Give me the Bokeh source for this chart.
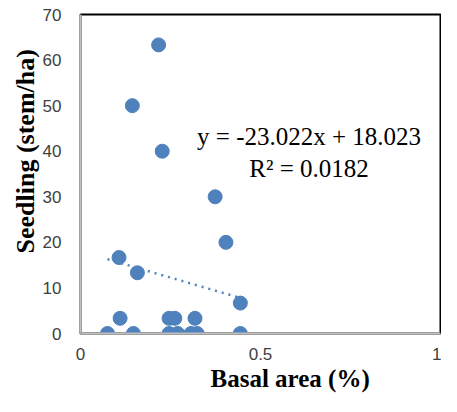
from bokeh.plotting import figure
from bokeh.models import Label, Range1d, FixedTicker, Title
from bokeh.embed import file_html
from bokeh.resources import INLINE

# Data
basal_area = [0.075, 0.110, 0.147, 0.107, 0.158, 0.144, 0.217, 0.227, 0.246, 0.262,
              0.246, 0.270, 0.318, 0.307, 0.324, 0.374, 0.404, 0.444, 0.444]
seedling = [0, 3.33, 0, 16.67, 13.33, 50, 63.33, 40, 3.33, 3.33,
            0, 0, 3.33, 0, 0, 30, 20, 6.67, 0]
trend_slope = -23.022
trend_intercept = 18.023
r_squared = "0.0182"
x_ticks = [0, 0.5, 1]
y_ticks = [0, 10, 20, 30, 40, 50, 60, 70]

BLUE = "#4F81BD"

p = figure(width=441, height=396, output_backend="svg", toolbar_location=None,
           x_range=Range1d(0, 1), y_range=Range1d(0, 70),
           min_border_left=80, min_border_right=1, min_border_top=14, min_border_bottom=63)
p.xgrid.visible = False
p.ygrid.visible = False
p.outline_line_color = "black"
p.outline_line_width = 2
p.background_fill_color = "white"
p.border_fill_color = "white"

for ax in (p.xaxis[0], p.yaxis[0]):
    ax.axis_line_color = "#BFBFBF"
    ax.axis_line_width = 2
    ax.major_tick_line_color = None
    ax.minor_tick_line_color = None
    ax.major_tick_out = 0
    ax.major_tick_in = 0
    ax.major_label_text_font = "Liberation Sans"
    ax.major_label_text_font_size = "17px"
    ax.major_label_text_color = "#404040"

p.xaxis.ticker = FixedTicker(ticks=x_ticks)
p.yaxis.ticker = FixedTicker(ticks=y_ticks)
p.xaxis.major_label_overrides = {0: "0", 0.5: "0.5", 1: "1"}
p.xaxis.major_label_standoff = 14
p.yaxis.major_label_standoff = 19

# Trend line over the data's x range
tx = [min(basal_area), max(basal_area)]
ty = [trend_slope * v + trend_intercept for v in tx]
p.line(tx, ty, line_color=BLUE, line_width=2.5, line_dash="2 5")

p.scatter(basal_area, seedling, size=14, fill_color=BLUE, line_color=BLUE)

eq1 = Label(x=0.635, y=43.3, text=f"y = {trend_slope}x + {trend_intercept}",
            text_font="Liberation Serif", text_font_size="25px", text_color="black",
            text_align="center", text_baseline="middle")
eq2 = Label(x=0.635, y=36.3, text=f"R² = {r_squared}",
            text_font="Liberation Serif", text_font_size="25px", text_color="black",
            text_align="center", text_baseline="middle")
p.add_layout(eq1)
p.add_layout(eq2)

# Axis titles
xt = Title(text="Basal area (%)", align="left", offset=130,
           text_font="Liberation Serif", text_font_style="bold", text_font_size="25px",
           text_color="black", standoff=0)
yt = Title(text="Seedling (stem/ha)", align="left", offset=80,
           text_font="Liberation Serif", text_font_style="bold", text_font_size="26px",
           text_color="black", standoff=0)
p.add_layout(xt, "below")
p.add_layout(yt, "left")

open("out.html", "w").write(file_html(p, INLINE))
